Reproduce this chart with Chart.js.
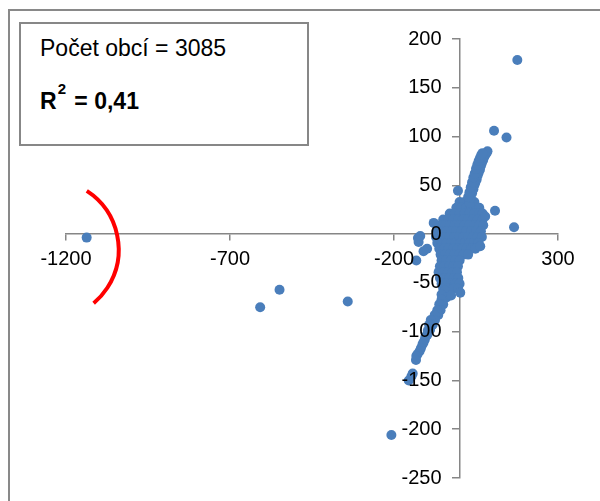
<!DOCTYPE html>
<html>
<head>
<meta charset="utf-8">
<script src="https://cdn.jsdelivr.net/npm/chart.js@4.4.1/dist/chart.umd.min.js"></script>
<style>
body { margin: 0; background: #fff; }
#wrap { position: relative; width: 600px; height: 501px; overflow: hidden; }
#frame { position: absolute; left: 8px; top: 9px; width: 700px; height: 600px; border: 2px solid #898989; }
#chart { position: absolute; left: 0; top: 0; }
#note { position: absolute; left: 19px; top: 22px; width: 290px; height: 124px; box-sizing: border-box;
        border: 2px solid #878787; background: #fff; font-family: "Liberation Sans", Arial, sans-serif; color: #000; }
.line { position: absolute; left: 19px; white-space: nowrap; font-size: 23px; line-height: 23px; }
#l1 { top: 13px; }
#l2 { top: 66px; font-weight: bold; }
.sup { position: relative; top: -15px; font-size: 15px; font-weight: bold; margin-left: 1px; margin-right: 2px; }
</style>
</head>
<body>
<div id="wrap">
  <div id="frame"></div>
  <canvas id="chart" width="600" height="501"></canvas>
  <div id="note">
    <div class="line" id="l1">Počet obcí = 3085</div>
    <div class="line" id="l2">R<span class="sup">2</span> = 0,41</div>
  </div>
</div>
<script>
// axis ranges / ticks
const xTicks = [-1200, -700, -200, 300];
const yTicks = [-250, -200, -150, -100, -50, 0, 50, 100, 150, 200];

// dense cloud around the origin [x, y]
const corePoints = [
  [0,33],[15,33],[30,33],[45,33],
  [-10,27],[5,27],[20,27],[35,27],[50,27],[60,27],
  [-30,21],[-15,21],[0,21],[15,21],[30,21],[45,21],[60,21],[70,21],
  [-50,15],[-35,15],[-20,15],[-5,15],[10,15],[25,15],[40,15],[55,15],[70,15],
  [-60,9],[-45,9],[-30,9],[-15,9],[0,9],[15,9],[30,9],[45,9],[60,9],[72,9],
  [-70,3],[-55,3],[-40,3],[-25,3],[-10,3],[5,3],[20,3],[35,3],[50,3],[65,3],
  [-72,-3],[-58,-3],[-44,-3],[-30,-3],[-16,-3],[-2,-3],[12,-3],[26,-3],[40,-3],[54,-3],[68,-3],
  [-68,-9],[-54,-9],[-40,-9],[-26,-9],[-12,-9],[2,-9],[16,-9],[30,-9],[44,-9],[58,-9],
  [-62,-15],[-48,-15],[-34,-15],[-20,-15],[-6,-15],[8,-15],[22,-15],[36,-15],[48,-15],
  [-58,-21],[-44,-21],[-30,-21],[-16,-21],[-2,-21],[12,-21],[26,-21],
  [-55,-27],[-41,-27],[-27,-27],[-13,-27],[0,-27],
  [-60,-33],[-46,-33],[-32,-33],[-18,-33],[-5,-33],
  [-64,-39],[-50,-39],[-36,-39],[-22,-39],[-8,-39],
  [-60,-45],[-46,-45],[-32,-45],[-18,-45],[-4,-45],
  [-55,-51],[-41,-51],[-27,-51],[-13,-51],[0,-51],
  [-50,-56],[-36,-56],[-20,-56],[-5,-56]
];

// upper arm (roughly y = x)
const upperArm = [
  [30,32],[34,37],[38,42],[42,46],[45,50],[48,53],[52,56],[55,60],[58,63],[62,66],
  [65,70],[68,73],[72,76],[75,79],[78,81],[82,83],[85,85],
  [26,38],[30,43],[34,48],[38,53],[42,58],[46,62],[50,67],[54,71],[58,75],[62,78],[66,81],[70,83]
];

// lower arm
const lowerArm = [
  [-45,-58],[-55,-62],[-40,-65],[-55,-67],[-50,-72],[-62,-72],[-58,-78],[-68,-78],
  [-65,-83],[-76,-83],[-75,-88],[-88,-88],[-82,-93],[-93,-93],[-90,-98],[-97,-99],
  [-98,-103],[-104,-105],[-106,-108],[-110,-111],[-113,-113],[-118,-117],[-122,-120],
  [-128,-123],[-132,-125],[-133,-129],[-143,-143],[-147,-146],[-155,-150],[-208,-206]
];

// scattered points near the cloud
const nearPoints = [
  [-5,44.5],[108,24],[78,18],[63,-12.5],[166,7],[105,106],[143,99],[176,178.5],
  [-127,-4],[-125,-8],[-99,-15],[-110,-17.5],[-132,-27],[-79,11.5],[-120,-2],
  [-26,-63],[2,-60]
];

// far outliers (first one is circled)
const farPoints = [[-1137,-3.6],[-608,-75],[-549,-57],[-341,-69]];

const allPoints = [...corePoints, ...upperArm, ...lowerArm, ...nearPoints, ...farPoints]
  .map(p => ({x: p[0], y: p[1]}));

const axisGray = '#868686';
const tickFont = { family: '"Liberation Sans", Arial, sans-serif', size: 20 };
const yLabelGap = 18; // px between y axis line and right edge of its labels

// red arc around the far left outlier
const arcPlugin = {
  id: 'outlierArc',
  afterDatasetsDraw(chart) {
    const {ctx, scales} = chart;
    const px = scales.x.getPixelForValue(farPoints[0][0]);
    const py = scales.y.getPixelForValue(farPoints[0][1]);
    ctx.save();
    ctx.strokeStyle = '#ff0000';
    ctx.lineWidth = 4;
    ctx.beginPath();
    ctx.arc(px - 38, py + 12, 70, -57 * Math.PI / 180, 50 * Math.PI / 180);
    ctx.stroke();
    ctx.restore();
  }
};

// chart.js puts y labels of a value-positioned axis right on the line, push them left
const yLabelShift = {
  id: 'yLabelShift',
  beforeDraw(chart) {
    const items = chart.scales.y.getLabelItems(chart.chartArea);
    items.forEach(it => {
      if (!it._shifted) {
        it.options.translation[0] -= yLabelGap;
        it._shifted = true;
      }
    });
  }
};

new Chart(document.getElementById('chart'), {
  type: 'scatter',
  data: {
    datasets: [{
      data: allPoints,
      backgroundColor: '#4a7ebb',
      borderWidth: 0,
      pointRadius: 5,
      pointHoverRadius: 5
    }]
  },
  options: {
    responsive: false,
    animation: false,
    layout: { padding: { left: 66, right: 42, top: 39, bottom: 23 } },
    plugins: { legend: { display: false }, tooltip: { enabled: false } },
    scales: {
      x: {
        type: 'linear',
        min: xTicks[0], max: xTicks[xTicks.length - 1],
        position: { y: 0 },
        afterBuildTicks: s => { s.ticks = xTicks.map(v => ({value: v})); },
        ticks: { font: tickFont, color: '#000', padding: 7, z: 1, callback: v => String(v) },
        grid: { drawOnChartArea: false, drawTicks: true, tickLength: 6, color: axisGray, lineWidth: 1.5 },
        border: { color: axisGray, width: 1.5 }
      },
      y: {
        type: 'linear',
        min: yTicks[0], max: yTicks[yTicks.length - 1],
        position: { x: 0 },
        afterBuildTicks: s => { s.ticks = yTicks.map(v => ({value: v})); },
        ticks: { font: tickFont, color: '#000', z: 1, callback: v => String(v) },
        grid: { drawOnChartArea: false, drawTicks: true, tickLength: 7, color: axisGray, lineWidth: 1.5 },
        border: { color: axisGray, width: 1.5 }
      }
    }
  },
  plugins: [arcPlugin, yLabelShift]
});
</script>
</body>
</html>
